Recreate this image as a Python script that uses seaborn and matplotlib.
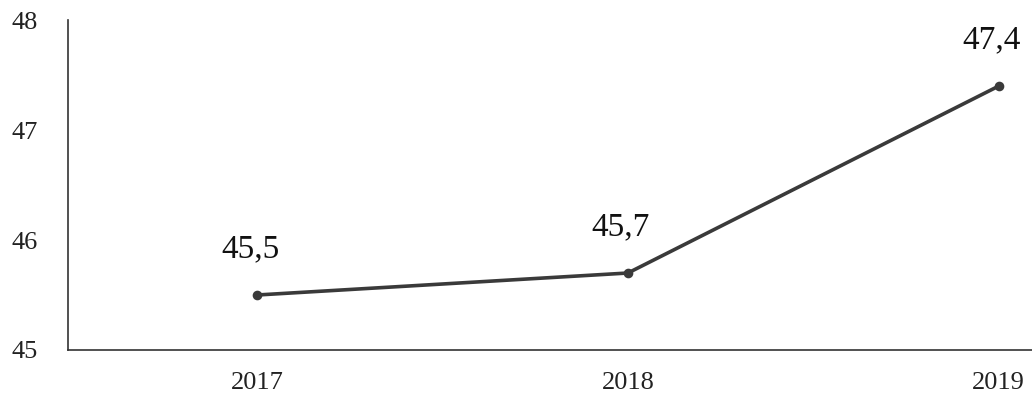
import pandas as pd
import seaborn as sns
import matplotlib.pyplot as plt

sns.set_theme(style="white")
plt.rcParams['font.family'] = ['Liberation Serif', 'DejaVu Serif']

# data
years = ['2017', '2018', '2019']
values = [45.5, 45.7, 47.4]
labels = ['45,5', '45,7', '47,4']

df = pd.DataFrame({'year': years, 'value': values})

fig = plt.figure(figsize=(10.32, 3.95), dpi=100)
ax = fig.add_axes([0.066, 0.114, 0.934, 0.835])

sns.pointplot(data=df, x='year', y='value', color='#3a3a3a',
              markers='o', markersize=5, linewidth=2.6, ax=ax)

for i, (v, t) in enumerate(zip(values, labels)):
    ax.annotate(t, (i, v), xytext=(-5, 22), textcoords='offset points',
                ha='center', va='bottom', fontsize=24, color='#111111')

ax.set_ylim(45, 48)
ax.set_yticks([45, 46, 47, 48])
ax.set_xlim(-0.51, 2.09)
ax.set_xlabel('')
ax.set_ylabel('')
ax.tick_params(axis='both', length=0, labelsize=19, colors='#222222')
ax.tick_params(axis='x', pad=16)
ax.tick_params(axis='y', pad=22)

for s in ['top', 'right']:
    ax.spines[s].set_visible(False)
for s in ['left', 'bottom']:
    ax.spines[s].set_color('#333333')
    ax.spines[s].set_linewidth(1.2)

fig.savefig('out.png', dpi=100)
